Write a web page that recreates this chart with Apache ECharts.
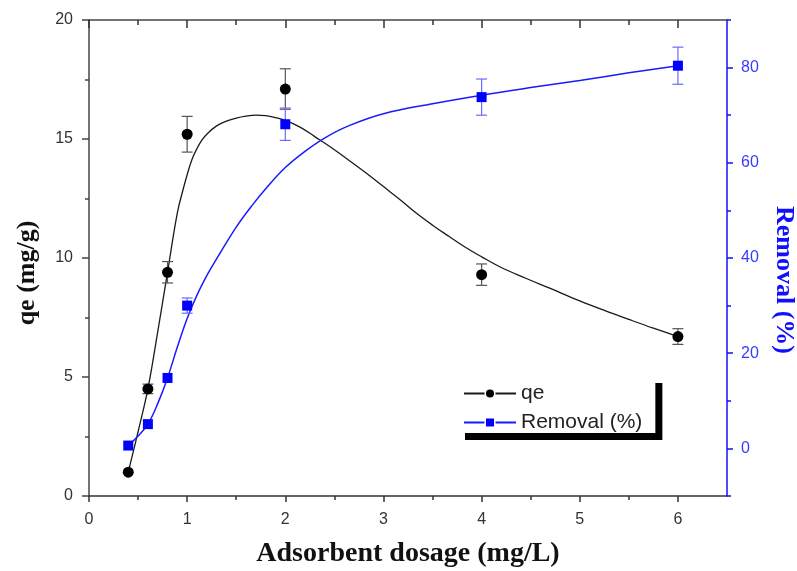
<!DOCTYPE html>
<html>
<head>
<meta charset="utf-8">
<script src="https://cdn.jsdelivr.net/npm/echarts@6/dist/echarts.min.js"></script>
<style>
  html, body { margin: 0; padding: 0; background: #fff; }
  #chart { width: 797px; height: 571px; }
</style>
</head>
<body>
<div id="chart"></div>
<script>
// Measured points
var dosage     = [0.4, 0.6, 0.8, 1.0, 2.0, 4.0, 6.0];
var qe         = [1.0, 4.5, 9.4, 15.2, 17.1, 9.3, 6.7];
var qeErr      = [0, 0.2, 0.45, 0.75, 0.85, 0.45, 0.33];
var removal    = [0.6, 5.1, 14.8, 30.0, 68.1, 73.8, 80.4];
var removalErr = [0, 0, 0, 1.6, 3.4, 3.8, 3.9];

// Fitted curves
var qeFitX  = [0.4, 0.5, 0.6, 0.7, 0.8, 0.9, 0.96, 1.0, 1.05, 1.1, 1.15, 1.2, 1.3, 1.4, 1.5, 1.6, 1.7, 1.8, 1.9, 2.0, 2.15, 2.3, 2.5, 2.65, 2.82, 3.0, 3.17, 3.33, 3.5, 3.67, 3.83, 4.0, 4.2, 4.45, 4.7, 5.0, 5.25, 5.5, 5.75, 6.0];
var qeFitY  = [1.0, 2.7, 4.5, 6.9, 9.4, 11.9, 12.9, 13.5, 14.15, 14.6, 14.95, 15.2, 15.55, 15.75, 15.88, 15.96, 16.0, 15.98, 15.9, 15.78, 15.5, 15.1, 14.55, 14.1, 13.58, 13.0, 12.45, 11.9, 11.38, 10.9, 10.46, 10.05, 9.6, 9.15, 8.72, 8.2, 7.8, 7.42, 7.05, 6.7];
var remFitX = [0.4, 0.5, 0.6, 0.7, 0.8, 0.9, 1.0, 1.1, 1.2, 1.32, 1.5, 1.66, 1.82, 2.0, 2.2, 2.4, 2.65, 3.0, 3.5, 4.0, 4.5, 5.0, 5.5, 6.0];
var remFitY = [0.6, 2.6, 5.1, 9.4, 14.8, 21.3, 27.3, 32.2, 36.3, 40.5, 46.5, 51.0, 55.0, 59.0, 62.4, 65.2, 67.8, 70.3, 72.4, 74.2, 75.8, 77.3, 78.9, 80.4];

// Axis tick values
var xLabels     = [0, 1, 2, 3, 4, 5, 6];
var xMinorTicks = [0.5, 1.5, 2.5, 3.5, 4.5, 5.5];
var rightLabels = [0, 20, 40, 60, 80];
var rightMinor  = [-10, 10, 30, 50, 70, 90];

var pair = function (xs, ys) { return xs.map(function (x, i) { return [x, ys[i]]; }); };
var withErr = function (ys, es) {
  var out = [];
  dosage.forEach(function (x, i) { if (es[i] > 0) out.push([x, ys[i], es[i]]); });
  return out;
};

var sans = 'Liberation Sans, Arial, sans-serif';
var serif = 'Liberation Serif, Times New Roman, serif';
var BLUE = '#1010ff';

function errorBar(color) {
  return function (params, api) {
    var x = api.value(0), y = api.value(1), e = api.value(2);
    var top = api.coord([x, y + e]);
    var bot = api.coord([x, y - e]);
    var hw = 5.5;
    var st = { stroke: color, lineWidth: 1.2 };
    return {
      type: 'group',
      children: [
        { type: 'line', shape: { x1: top[0], y1: top[1], x2: bot[0], y2: bot[1] }, style: st },
        { type: 'line', shape: { x1: top[0] - hw, y1: top[1], x2: top[0] + hw, y2: top[1] }, style: st },
        { type: 'line', shape: { x1: bot[0] - hw, y1: bot[1], x2: bot[0] + hw, y2: bot[1] }, style: st }
      ]
    };
  };
}

var xBase = { type: 'value', min: 0, max: 6.5, splitLine: { show: false } };

var option = {
  animation: false,
  backgroundColor: '#fff',
  grid: { left: 89, right: 70, top: 20, bottom: 75, containLabel: false, outerBoundsMode: 'none' },
  legend: {
    orient: 'vertical',
    left: 458, top: 376,
    data: ['qe', 'Removal (%)'],
    backgroundColor: '#fff',
    shadowColor: '#000', shadowBlur: 0, shadowOffsetX: 7, shadowOffsetY: 7,
    padding: [7, 13, 0, 5],
    itemGap: 8,
    itemWidth: 52, itemHeight: 12,
    textStyle: { fontFamily: sans, fontSize: 21, color: '#222' },
    itemStyle: { borderColor: '#fff', borderWidth: 1.5, opacity: 1 }
  },
  xAxis: [
    Object.assign({}, xBase, {
      position: 'bottom',
      name: 'Adsorbent dosage (mg/L)', nameLocation: 'middle', nameGap: 44,
      nameTextStyle: { fontFamily: serif, fontWeight: 'bold', fontSize: 28, color: '#111' },
      axisLine: { onZero: false, lineStyle: { color: '#333', width: 1.5 } },
      axisTick: { customValues: xLabels, length: 6, lineStyle: { color: '#333', width: 1.5 } },
      axisLabel: { customValues: xLabels, margin: 16, fontFamily: sans, fontSize: 16, color: '#333' }
    }),
    Object.assign({}, xBase, {
      position: 'bottom',
      axisLine: { show: false, onZero: false },
      axisTick: { customValues: xMinorTicks, length: 4, lineStyle: { color: '#333', width: 1.5 } },
      axisLabel: { show: false }
    }),
    Object.assign({}, xBase, {
      position: 'top',
      axisLine: { onZero: false, lineStyle: { color: '#444', width: 1.5 } },
      axisTick: { inside: true, customValues: xLabels, length: 8, lineStyle: { color: '#333', width: 1.5 } },
      axisLabel: { show: false }
    }),
    Object.assign({}, xBase, {
      position: 'top',
      axisLine: { show: false, onZero: false },
      axisTick: { inside: true, customValues: xMinorTicks, length: 5, lineStyle: { color: '#333', width: 1.5 } },
      axisLabel: { show: false }
    })
  ],
  yAxis: [
    {
      type: 'value', position: 'left', min: 0, max: 20, interval: 5,
      name: 'qe (mg/g)', nameLocation: 'middle', nameGap: 49,
      nameTextStyle: { fontFamily: serif, fontWeight: 'bold', fontSize: 26, color: '#111', padding: [0, 30, 0, 0] },
      splitLine: { show: false },
      axisLine: { onZero: false, lineStyle: { color: '#444', width: 1.5 } },
      axisTick: { length: 7, lineStyle: { color: '#444', width: 1.5 } },
      minorTick: { show: true, splitNumber: 2, length: 4, lineStyle: { color: '#444', width: 1.5 } },
      axisLabel: { margin: 16, fontFamily: sans, fontSize: 16, color: '#333' }
    },
    {
      type: 'value', position: 'right', min: -10, max: 90,
      name: 'Removal (%)', nameLocation: 'middle', nameGap: 44, nameRotate: -90,
      nameTextStyle: { fontFamily: serif, fontWeight: 'bold', fontSize: 26, color: BLUE, padding: [0, 0, 0, 44] },
      splitLine: { show: false },
      axisLine: { onZero: false, lineStyle: { color: BLUE, width: 1.5 } },
      axisTick: { customValues: rightLabels, length: 6, lineStyle: { color: BLUE, width: 1.5 } },
      axisLabel: { customValues: rightLabels, margin: 14, fontFamily: sans, fontSize: 16, color: '#3a3aff' }
    },
    {
      type: 'value', position: 'right', min: -10, max: 90,
      splitLine: { show: false },
      axisLine: { show: false, onZero: false },
      axisTick: { customValues: rightMinor, length: 4, lineStyle: { color: BLUE, width: 1.5 } },
      axisLabel: { show: false }
    }
  ],
  series: [
    {
      name: 'qe', type: 'line', xAxisIndex: 0, yAxisIndex: 0,
      data: pair(qeFitX, qeFitY), smooth: 0.4, showSymbol: false,
      symbol: 'circle', symbolSize: 10,
      lineStyle: { color: '#1a1a1a', width: 1.3 },
      itemStyle: { color: '#000' }, z: 2
    },
    {
      name: 'Removal (%)', type: 'line', xAxisIndex: 0, yAxisIndex: 1,
      data: pair(remFitX, remFitY), smooth: 0.4, showSymbol: false,
      symbol: 'rect', symbolSize: 10,
      lineStyle: { color: '#1a1aff', width: 1.5 },
      itemStyle: { color: '#0000ff' }, z: 2
    },
    {
      type: 'custom', xAxisIndex: 0, yAxisIndex: 0,
      renderItem: errorBar('#555'), data: withErr(qe, qeErr),
      encode: { x: 0, y: 1 }, z: 3
    },
    {
      type: 'custom', xAxisIndex: 0, yAxisIndex: 1,
      renderItem: errorBar('#6a6aff'), data: withErr(removal, removalErr),
      encode: { x: 0, y: 1 }, z: 3
    },
    {
      name: 'qe', type: 'scatter', xAxisIndex: 0, yAxisIndex: 0,
      data: pair(dosage, qe), symbol: 'circle', symbolSize: 11,
      itemStyle: { color: '#000', opacity: 1 }, z: 4
    },
    {
      name: 'Removal (%)', type: 'scatter', xAxisIndex: 0, yAxisIndex: 1,
      data: pair(dosage, removal), symbol: 'rect', symbolSize: 10,
      itemStyle: { color: '#0000ff', opacity: 1 }, z: 4
    }
  ]
};

var chart = echarts.init(document.getElementById('chart'), null, { renderer: 'canvas' });
chart.setOption(option);
</script>
</body>
</html>
